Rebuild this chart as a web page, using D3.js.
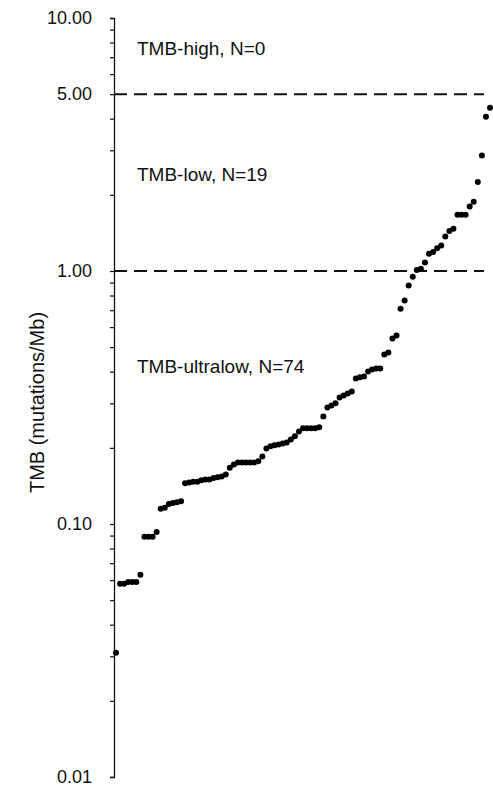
<!DOCTYPE html>
<html>
<head>
<meta charset="utf-8">
<script src="https://cdn.jsdelivr.net/npm/d3@7"></script>
<style>
  body { margin: 0; background: #fff; }
  text { font-family: "Liberation Sans", Arial, sans-serif; fill: #111; }
</style>
</head>
<body>
<div id="main"></div>
<script>
// TMB per sample, sorted ascending (mutations/Mb)
var tmb = [
  0.031, 0.058, 0.058, 0.059, 0.059, 0.059, 0.063, 0.089, 0.089, 0.089,
  0.093, 0.115, 0.116, 0.120, 0.121, 0.122, 0.123, 0.145, 0.146, 0.147,
  0.147, 0.149, 0.150, 0.150, 0.152, 0.153, 0.154, 0.157, 0.167, 0.172,
  0.175, 0.175, 0.175, 0.175, 0.175, 0.177, 0.185, 0.199, 0.203, 0.205,
  0.206, 0.208, 0.210, 0.216, 0.222, 0.232, 0.239, 0.239, 0.239, 0.239,
  0.241, 0.266, 0.289, 0.294, 0.300, 0.316, 0.322, 0.328, 0.334, 0.376,
  0.380, 0.383, 0.401, 0.408, 0.412, 0.412, 0.468, 0.476, 0.541, 0.556,
  0.710, 0.764, 0.876, 0.950, 1.01, 1.02, 1.08, 1.17, 1.19, 1.23,
  1.26, 1.37, 1.44, 1.47, 1.67, 1.67, 1.67, 1.80, 1.88, 2.25,
  2.86, 4.07, 4.42
];
var labelTicks = [10, 5, 1, 0.1, 0.01];
var cutoffs = [5, 1];
var groups = [
  { name: "TMB-high, N=0", at: 7.6 },
  { name: "TMB-low, N=19", at: 2.4 },
  { name: "TMB-ultralow, N=74", at: 0.42 }
];

var width = 493, height = 786;
var margin = { top: 18, left: 114, right: 3, bottom: 9 };

var svg = d3.select("#main").append("svg")
  .attr("width", width)
  .attr("height", height);

var x = d3.scaleLinear()
  .domain([0, tmb.length - 1])
  .range([margin.left + 2, width - margin.right]);

var y = d3.scaleLog()
  .domain([0.01, 10])
  .range([height - margin.bottom, margin.top]);

// minor ticks 1..9 in every decade
var allTicks = y.ticks();
var axis = d3.axisLeft(y)
  .tickValues(allTicks)
  .tickSize(4)
  .tickFormat(function(d) {
    return labelTicks.indexOf(+d.toPrecision(3)) >= 0 ? d3.format(".2f")(d) : "";
  });

var gAxis = svg.append("g")
  .attr("transform", "translate(" + margin.left + ",0)")
  .call(axis);
gAxis.select(".domain").attr("stroke", "#111").attr("stroke-width", 1.3);
gAxis.selectAll(".tick line").attr("stroke", "#111").attr("stroke-width", 1.2);
gAxis.selectAll(".tick text")
  .attr("x", -22)
  .attr("dy", "0.3em")
  .style("font-size", "18px")
  .style("font-family", "'Liberation Sans', Arial, sans-serif")
  .attr("fill", "#111");

svg.append("text")
  .attr("transform", "translate(44," + (y(Math.sqrt(0.1)) + 5) + ") rotate(-90)")
  .attr("text-anchor", "middle")
  .style("font-size", "20px")
  .text("TMB (mutations/Mb)");

svg.selectAll(".cut")
  .data(cutoffs)
  .enter().append("line")
  .attr("class", "cut")
  .attr("x1", margin.left)
  .attr("x2", 484)
  .attr("y1", function(d) { return y(d); })
  .attr("y2", function(d) { return y(d); })
  .attr("stroke", "#111")
  .attr("stroke-width", 2)
  .attr("stroke-dasharray", "13,7");

svg.selectAll(".grp")
  .data(groups)
  .enter().append("text")
  .attr("class", "grp")
  .attr("x", 137)
  .attr("y", function(d) { return y(d.at); })
  .attr("dy", "0.35em")
  .style("font-size", "19px")
  .text(function(d) { return d.name; });

svg.selectAll(".dot")
  .data(tmb)
  .enter().append("circle")
  .attr("class", "dot")
  .attr("cx", function(d, i) { return x(i); })
  .attr("cy", function(d) { return y(d); })
  .attr("r", 3)
  .attr("fill", "#000");
</script>
</body>
</html>
